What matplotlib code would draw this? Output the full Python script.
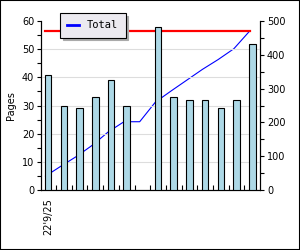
import numpy as np
import matplotlib
matplotlib.use("Agg")
import matplotlib.pyplot as plt
from matplotlib.lines import Line2D
from matplotlib.patches import Rectangle

# daily pages read (slot 7 had no reading)
pages = [41, 30, 29, 33, 39, 30, 0, 58, 33, 32, 32, 29, 32, 52]
tick_labels = ["22'9/25"] + [""] * 13

x = np.arange(len(pages))
total = np.cumsum(pages)

plt.rcParams["font.family"] = "DejaVu Sans"
plt.rcParams["font.size"] = 7

fig = plt.figure(figsize=(3.0, 2.5), dpi=100)
ax = fig.add_axes([0.137, 0.24, 0.73, 0.676])
ax2 = ax.twinx()

# right axis: running total + target line
ax2.plot(x - 0.17, total, color="blue", lw=0.8)
ax2.plot([x[0] - 0.17, x[-1] - 0.17], [total[-1], total[-1]], color="red", lw=1.6)
ax2.set_ylim(0, 500)
ax2.set_yticks(np.arange(0, 501, 100))
ax2.set_yticks(np.arange(50, 500, 100), minor=True)

# left axis: bars drawn above the line
ax.set_zorder(ax2.get_zorder() + 1)
ax.patch.set_visible(False)
has = np.array(pages) > 0
ax.bar(x[has], np.array(pages)[has], width=0.42,
       color="#ADD8E6", edgecolor="black", lw=0.8, zorder=3)
ax.set_ylim(0, 60)
ax.set_xlim(-0.45, 13.5)
ax.set_yticks(np.arange(0, 61, 10))
ax.set_yticks(np.arange(5, 60, 10), minor=True)
ax.yaxis.grid(True, color="#DDDDDD", lw=0.8, zorder=0)
ax.get_ygridlines()[-1].set_visible(False)
ax.set_ylabel("Pages", labelpad=4)

ax.set_xticks(x)
ax.set_xticklabels(tick_labels, rotation=90)
ax.set_xticks(x[:-1] + 0.5, minor=True)
ax.tick_params(axis="x", which="major", length=0, pad=6)
ax.tick_params(axis="x", which="minor", direction="in", length=3.5, width=0.8)
ax.tick_params(axis="y", which="both", direction="out", length=3, width=0.8, pad=2)
ax2.tick_params(axis="y", which="both", direction="out", length=3, width=0.8, pad=2)

for a in (ax, ax2):
    a.spines["top"].set_visible(False)
    for s in ("left", "right", "bottom"):
        a.spines[s].set_linewidth(0.8)

handle = Line2D([], [], color="blue", lw=2)
leg = fig.legend([handle], ["Total"], loc="upper left", bbox_to_anchor=(0.2, 0.948),
                 borderaxespad=0, fancybox=False,
                 shadow={"color": "#AAAAAA", "alpha": 1}, framealpha=1,
                 facecolor="#ECEAF0", edgecolor="black", handlelength=1.1,
                 handletextpad=0.8, borderpad=0.7,
                 prop={"family": "DejaVu Sans Mono", "size": 7.5})
leg.get_frame().set_linewidth(0.8)

fig.patches.append(Rectangle((0, 0), 1, 1, transform=fig.transFigure, fill=False,
                             edgecolor="black", lw=1.5))

fig.savefig("out.png", dpi=100)
